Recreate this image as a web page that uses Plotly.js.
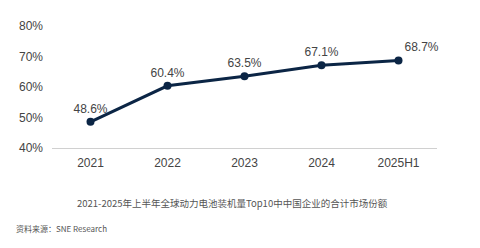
<!DOCTYPE html>
<html>
<head>
<meta charset="utf-8">
<script src="https://cdn.plot.ly/plotly-3.0.1.min.js"></script>
<style>
  html, body { margin: 0; padding: 0; background: #ffffff; }
  #chart { width: 480px; height: 248px; }
</style>
</head>
<body>
<div id="chart"></div>
<script>
// Combined share of Chinese firms among global Top10 EV battery installers
const years = ["2021", "2022", "2023", "2024", "2025H1"];
const sharePct = [48.6, 60.4, 63.5, 67.1, 68.7];
const labelPos = ["top center", "top center", "top center", "top center", "top right"];
const yTicks = [40, 50, 60, 70, 80];
const yTickText = ["40%", "50%", "60%", "70%", "80%"];
const caption = "2021-2025年上半年全球动力电池装机量Top10中中国企业的合计市场份额";
const sourceNote = "资料来源：SNE Research";

const navy = "#0b2545";
const textGrey = "#444444";

const trace = {
  type: "scatter",
  mode: "lines+markers+text",
  x: years,
  y: sharePct,
  text: sharePct.map(v => v.toFixed(1) + "%"),
  textposition: labelPos,
  textfont: { family: "Liberation Sans, Arial, sans-serif", size: 12, color: textGrey },
  line: { color: navy, width: 3 },
  marker: { color: navy, size: 8 },
  cliponaxis: false,
  hoverinfo: "skip"
};

const layout = {
  width: 480,
  height: 248,
  margin: { l: 52, r: 43, t: 26, b: 100 },
  paper_bgcolor: "#ffffff",
  plot_bgcolor: "#ffffff",
  showlegend: false,
  font: { family: "Liberation Sans, Arial, sans-serif", color: textGrey },
  xaxis: {
    type: "category",
    range: [-0.5, 4.5],
    showgrid: false,
    zeroline: false,
    showline: true,
    linecolor: "#d0d0d0",
    linewidth: 1,
    ticks: "",
    ticklabelstandoff: 4,
    tickfont: { size: 12, color: textGrey },
    fixedrange: true
  },
  yaxis: {
    range: [40, 80],
    tickvals: yTicks,
    ticktext: yTickText,
    showgrid: false,
    zeroline: false,
    showline: false,
    ticks: "",
    ticklabelstandoff: 8,
    tickfont: { size: 12, color: textGrey },
    fixedrange: true
  },
  annotations: [
    {
      text: caption,
      xref: "paper", yref: "paper",
      x: 0.47, y: 0, xanchor: "center", yanchor: "middle",
      yshift: -55,
      showarrow: false,
      font: { family: "Noto Sans CJK SC, sans-serif", size: 9.5, color: "#555555" }
    },
    {
      text: sourceNote,
      xref: "paper", yref: "paper",
      x: 0, y: 0, xanchor: "left", yanchor: "middle",
      xshift: -38, yshift: -80,
      showarrow: false,
      font: { family: "Noto Sans CJK SC, sans-serif", size: 8, color: "#555555" }
    }
  ]
};

Plotly.newPlot("chart", [trace], layout, { displayModeBar: false, staticPlot: true });
</script>
</body>
</html>
